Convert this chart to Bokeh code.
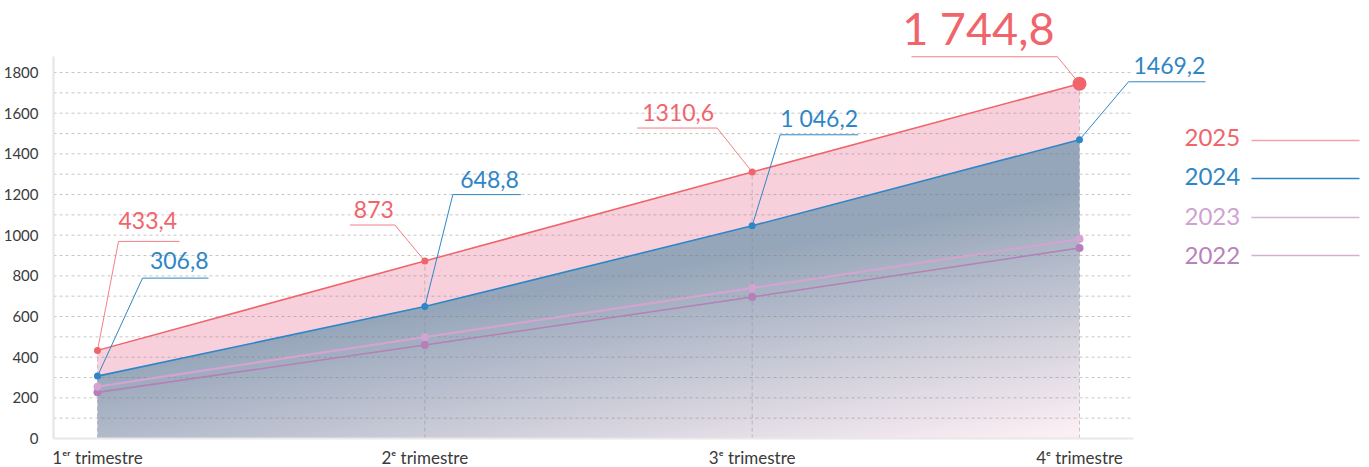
import numpy as np
from bokeh.plotting import figure
from bokeh.models import FixedTicker, Range1d
from bokeh.core.properties import value
from bokeh.embed import file_html
from bokeh.resources import INLINE

# ---------------- data ----------------
quarters = ["1ᵉʳ trimestre", "2ᵉ trimestre", "3ᵉ trimestre", "4ᵉ trimestre"]
x_pos = [0, 1, 2, 3]
years = ["2025", "2024", "2023", "2022"]
v2025 = [433.4, 873.0, 1310.6, 1744.8]
v2024 = [306.8, 648.8, 1046.2, 1469.2]
v2023 = [255.0, 499.0, 740.0, 981.0]
v2022 = [227.0, 460.0, 696.0, 937.0]
labels2025 = ["433,4", "873", "1310,6", "1 744,8"]
labels2024 = ["306,8", "648,8", "1 046,2", "1469,2"]
y_ticks = [0, 200, 400, 600, 800, 1000, 1200, 1400, 1600, 1800]

# ---------------- style / layout ----------------
FONT = "Lato"
C25, C24, C23, C22 = "#f0646c", "#2e86c6", "#d3a3d1", "#b57fb8"
FRAME_W, FRAME_H, LEFT, TOP = 1309, 429, 44, 9
Y_END = 2110.0
XS = 327.33                     # px per category
YS = FRAME_H / Y_END            # px per unit
PAGE_X0, PAGE_Y0 = 96.0, 437.0  # page px of (Q1, 0)
BASE_FIX = 0.42                 # text baseline correction (em)
x_start = -LEFT / XS
x_end = x_start + FRAME_W / XS


def px_x(px):
    return (px - PAGE_X0) / XS


def px_y(py):
    return (PAGE_Y0 - py) / YS


p = figure(frame_width=FRAME_W, frame_height=FRAME_H,
           x_range=Range1d(x_start, x_end), y_range=Range1d(0, Y_END),
           output_backend="svg", toolbar_location=None,
           min_border_left=LEFT, min_border_right=0, min_border_top=TOP,
           min_border_bottom=20)
p.outline_line_color = None
p.xgrid.visible = False
p.ygrid.visible = False

# ---------------- gradient area under 2024 ----------------
nx, ny = 600, 300
u = np.linspace(0, 1, nx)
vtop = 1 - np.linspace(0, 1, ny)
s = vtop[:, None] + 0.6 * u[None, :]
t = np.clip((s - 0.77) / 0.8, 0, 1)
D = np.array([150, 166, 186], float)
L = np.array([252, 239, 244], float)
rgb = D[None, None, :] + (L - D)[None, None, :] * t[:, :, None]
rgba = np.empty((ny, nx, 4), dtype=np.uint8)
rgba[:, :, :3] = rgb.astype(np.uint8)
rgba[:, :, 3] = 255
img = rgba.view(np.uint32).reshape(ny, nx)
top24 = max(v2024)
p.image_rgba(image=[img], x=x_pos[0], y=0, dw=x_pos[-1] - x_pos[0], dh=top24)
# white mask above the 2024 line (slightly overlapping the image edges)
ex, ey = 4 / XS, 12 / YS
mask_x = list(x_pos) + [x_pos[-1] + ex, x_pos[-1] + ex, x_pos[0] - ex, x_pos[0] - ex]
mask_y = list(v2024) + [v2024[-1], top24 + ey, top24 + ey, v2024[0]]
p.patch(mask_x, mask_y, fill_color="white", line_color=None)
# pink band between 2024 and 2025
p.varea(x=x_pos, y1=v2024, y2=v2025, fill_color="#f8d0dc")

# ---------------- grid lines ----------------
gy = list(range(100, 1801, 100))
x_axis_end = px_x(1132)
p.segment(x0=[x_start] * len(gy), y0=gy, x1=[x_axis_end] * len(gy), y1=gy,
          line_color="#7a7a7a", line_alpha=0.42, line_dash="3 3", line_width=1)
p.segment(x0=x_pos, y0=[0] * 4, x1=x_pos, y1=v2025,
          line_color="#8a8a8a", line_alpha=0.45, line_dash="4 3", line_width=1)

# ---------------- series ----------------
p.line(x_pos, v2022, line_color=C22, line_width=1.6)
p.line(x_pos, v2023, line_color=C23, line_width=2.2)
p.line(x_pos, v2024, line_color=C24, line_width=1.6)
p.line(x_pos, v2025, line_color=C25, line_width=1.5)

# ---------------- leaders & labels ----------------
# (text dx, baseline dy, align, underline dx0, dx1, underline dy, elbow dx) in px
lab25 = [(21, -120, "left", 21, 82, -109, 21),
         (-31, -42, "right", -75, -30, -36, -30),
         (-38, -50, "right", -115, -35, -44, -35),
         (-25, -37, "right", -168, -22, -27, -22)]
lab24 = [(111, -106, "right", 45, 111, -98, 45),
         (94, -117, "right", 28, 96, -112, 28),
         (28, -98, "left", 28, 106, -91, 28),
         (54, -65, "left", 49, 126, -58, 49)]
sizes25 = [23, 23, 23, 45]


def leaders(vals, specs, color, width):
    xs, ys = [], []
    for xi, vi, sp in zip(x_pos, vals, specs):
        _, _, _, d0, d1, udy, edx = sp
        other = d1 if edx == d0 else d0
        xs.append([xi, xi + edx / XS, xi + other / XS])
        ys.append([vi, vi - udy / YS, vi - udy / YS])
    p.multi_line(xs, ys, line_color=color, line_width=width)


leaders(v2025, lab25, "#f27f86", 1)
leaders(v2024, lab24, C24, 1)

for vals, specs, texts, color, sizes in [
        (v2025, lab25, labels2025, C25, sizes25),
        (v2024, lab24, labels2024, C24, [23] * 4)]:
    for xi, vi, sp, tx, fs in zip(x_pos, vals, specs, texts, sizes):
        tdx, tdy, al = sp[0], sp[1], sp[2]
        p.text(x=[xi + tdx / XS], y=[vi - (tdy - BASE_FIX * fs) / YS], text=[tx],
               text_font=value(FONT), text_font_size=value(f"{fs}px"),
               text_color=color, text_align=al, text_baseline="alphabetic")

# ---------------- points ----------------
p.scatter(x_pos, v2022, size=8, fill_color=C22, line_color=None)
p.scatter(x_pos, v2023, size=8, fill_color=C23, line_color=None)
p.scatter(x_pos, v2024, size=7, fill_color=C24, line_color=None)
p.scatter(x_pos, v2025, size=[7, 7, 7, 14], fill_color=C25, line_color=None)

# ---------------- legend (text left, line right) ----------------
leg_text_colors = ["#f0646c", "#2e86c6", "#cfa2d0", "#b883ba"]
leg_line_colors = ["#f5a3a8", "#2e86c6", "#d5b1d5", "#d3b0d3"]
leg_base_px = [146, 185, 225, 264]
leg_line_px = [139, 177, 216, 254]
LEG_FS = 24
for yr, tc, lc, bp, lp in zip(years, leg_text_colors, leg_line_colors,
                              leg_base_px, leg_line_px):
    p.text(x=[px_x(1183)], y=[px_y(bp - BASE_FIX * LEG_FS)], text=[yr],
           text_font=value(FONT), text_font_size=value(f"{LEG_FS}px"),
           text_color=tc, text_align="left", text_baseline="alphabetic")
    p.segment(x0=[px_x(1250)], y0=[px_y(lp)], x1=[px_x(1358)], y1=[px_y(lp)],
              line_color=lc, line_width=1.5)

# ---------------- axes ----------------
p.yaxis.ticker = FixedTicker(ticks=y_ticks)
p.yaxis.bounds = (0, px_y(55))
p.yaxis.axis_line_color = "#e4e4e4"
p.yaxis.axis_line_width = 2
p.yaxis.major_tick_line_color = None
p.yaxis.minor_tick_line_color = None
p.yaxis.major_label_standoff = 9
p.yaxis.major_label_text_font = FONT
p.yaxis.major_label_text_font_size = "15px"
p.yaxis.major_label_text_color = "#3a3a3a"

p.xaxis.ticker = FixedTicker(ticks=x_pos)
p.xaxis.major_label_overrides = {x: q for x, q in zip(x_pos, quarters)}
p.xaxis.bounds = (x_start, x_axis_end)
p.xaxis.axis_line_color = "#e8e8e8"
p.xaxis.axis_line_width = 2
p.xaxis.major_tick_line_color = None
p.xaxis.minor_tick_line_color = None
p.xaxis.major_label_standoff = 2
p.xaxis.major_label_text_font = FONT
p.xaxis.major_label_text_font_size = "17px"
p.xaxis.major_label_text_color = "#3a3a3a"

open("out.html", "w").write(file_html(p, INLINE))
